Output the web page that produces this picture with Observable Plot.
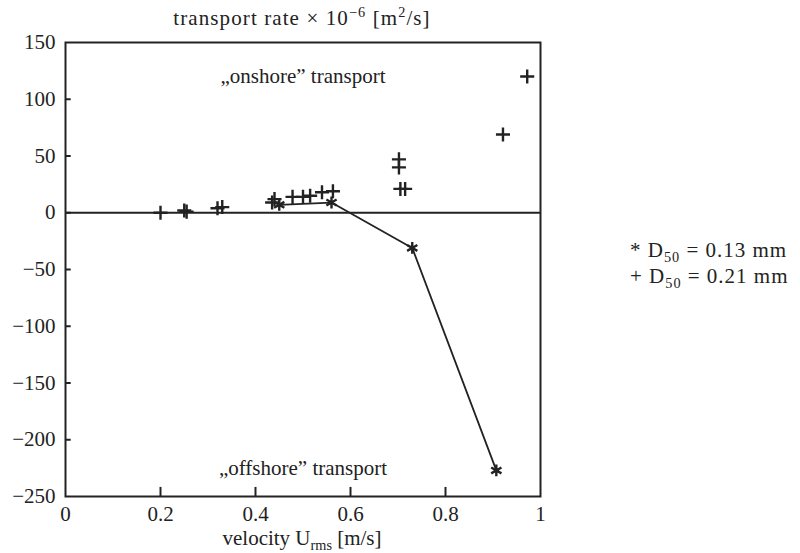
<!DOCTYPE html>
<html>
<head>
<meta charset="utf-8">
<script src="https://cdn.jsdelivr.net/npm/d3@7"></script>
<script src="https://cdn.jsdelivr.net/npm/@observablehq/plot@0.6"></script>
<style>
  body { margin: 0; background: #fff; }
  #wrap { position: relative; width: 800px; height: 553px; font-family: "Liberation Serif", "DejaVu Serif", serif; color: #222; }
  .lbl { position: absolute; font-size: 21px; white-space: nowrap; line-height: 1; }
  sub, sup { font-size: 0.68em; line-height: 0; }
</style>
</head>
<body>
<div id="wrap"></div>
<script>
// Sediment D50 = 0.13 mm (asterisks, connected)
const starVel = [0.45, 0.56, 0.73, 0.907];
const starRate = [7, 9, -31, -227];
// Sediment D50 = 0.21 mm (plus signs)
const plusVel = [0.2, 0.25, 0.255, 0.32, 0.33, 0.435, 0.44, 0.478, 0.5, 0.515, 0.54, 0.563, 0.702, 0.702, 0.705, 0.715, 0.921, 0.972];
const plusRate = [0, 2, 1, 4, 5, 9, 12, 14, 14, 15, 18, 19, 47, 40, 21, 21, 69, 120];
const xTicks = [0, 0.2, 0.4, 0.6, 0.8, 1];
const yTicks = [150, 100, 50, 0, -50, -100, -150, -200, -250];
const xInnerTicks = [0.2, 0.4, 0.6, 0.8];
const yInnerTicks = [100, 50, 0, -50, -100, -150, -200];

const stars = starVel.map((v, i) => ({v, r: starRate[i]}));
const pluses = plusVel.map((v, i) => ({v, r: plusRate[i]}));

const ink = "#222";
const chart = Plot.plot({
  width: 800,
  height: 553,
  marginLeft: 65,
  marginRight: 260,
  marginTop: 42,
  marginBottom: 57,
  style: {fontFamily: "Liberation Serif, DejaVu Serif, serif", fontSize: "21px", color: ink, background: "#fff"},
  x: {domain: [0, 1]},
  y: {domain: [-250, 150]},
  marks: [
    Plot.ruleY([0], {stroke: ink, strokeWidth: 2}),
    Plot.ruleX(xInnerTicks, {y1: -250, y2: -242, stroke: ink, strokeWidth: 2}),
    Plot.ruleY(yInnerTicks, {x1: 0, x2: 0.012, stroke: ink, strokeWidth: 2}),
    Plot.line(stars, {x: "v", y: "r", stroke: ink, strokeWidth: 1.8}),
    Plot.dot(stars, {x: "v", y: "r", symbol: "asterisk", r: 5.6, stroke: ink, strokeWidth: 2.4}),
    Plot.dot(pluses, {x: "v", y: "r", symbol: "plus", r: 4.6, stroke: ink, strokeWidth: 2.4}),
    Plot.text(["„onshore” transport"], {frameAnchor: "top", dy: 26, fontSize: 21, fill: ink}),
    Plot.text(["„offshore” transport"], {frameAnchor: "bottom", dy: -22, fontSize: 21, fill: ink}),
    Plot.frame({stroke: ink, strokeWidth: 2}),
    Plot.axisY({ticks: yTicks, tickSize: 0, tickPadding: 10, fontSize: 21, label: null}),
    Plot.axisX({ticks: xTicks, tickSize: 0, tickPadding: 10, fontSize: 21, label: null, tickFormat: d3.format("~g")})
  ]
});
const wrap = document.getElementById("wrap");
wrap.appendChild(chart);

function addLabel(html, css) {
  const d = document.createElement("div");
  d.className = "lbl";
  d.innerHTML = html;
  Object.assign(d.style, css);
  wrap.appendChild(d);
  return d;
}
addLabel("transport rate × 10<sup>−6</sup> [m<sup>2</sup>/s]", {left: "302px", top: "8px", transform: "translateX(-50%)", letterSpacing: "1.1px"});
addLabel("velocity U<sub>rms</sub> [m/s]", {left: "302px", top: "528px", transform: "translateX(-50%)"});
addLabel("* D<sub>50</sub> = 0.13 mm", {left: "630px", top: "240px", letterSpacing: "1px"});
addLabel("+ D<sub>50</sub> = 0.21 mm", {left: "630px", top: "266px", letterSpacing: "1px"});
</script>
</body>
</html>
